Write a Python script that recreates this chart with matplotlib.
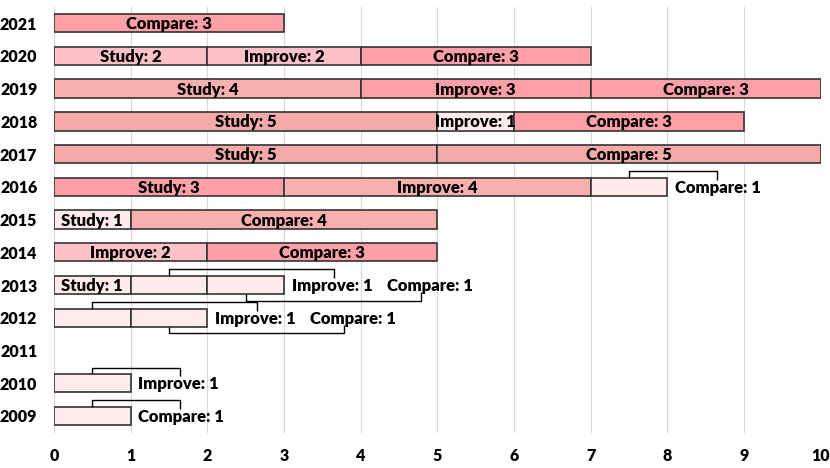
import matplotlib.pyplot as plt
import numpy as np

years = ['2009', '2010', '2011', '2012', '2013', '2014', '2015',
         '2016', '2017', '2018', '2019', '2020', '2021']
study = [0, 0, 0, 0, 1, 0, 1, 3, 5, 5, 4, 2, 0]
improve = [0, 1, 0, 1, 1, 2, 0, 4, 0, 1, 3, 2, 0]
compare = [1, 0, 0, 1, 1, 3, 4, 1, 5, 3, 3, 3, 3]

series = [('Study', study), ('Improve', improve), ('Compare', compare)]

# colour by value, like the heat shading in the original
shade = {1: '#FFEBEB', 2: '#FFC1C8', 3: '#FFA0A8', 4: '#F8B0AE', 5: '#F5AAAA'}

plt.rcParams['font.family'] = ['Lato', 'DejaVu Sans']
W = 'heavy'

fig = plt.figure(figsize=(8.3, 4.68), dpi=100)
ax = fig.add_axes([0.065, 0.0748, 0.924, 0.910])

y = np.arange(len(years))
h = 0.56
left = np.zeros(len(years))
fs = 12
tfs = 11.5

# 1-wide segments whose label is drawn inside anyway
inside_ok = {(4, 'Study'), (6, 'Study'), (9, 'Improve')}

outside = {}  # row -> list of (segment centre, label)
for name, vals in series:
    vals = np.array(vals, dtype=float)
    for i, v in enumerate(vals):
        if v <= 0:
            continue
        ax.barh(y[i], v, left=left[i], height=h, color=shade[int(v)],
                edgecolor='#333333', linewidth=1.2, zorder=3)
        label = f'{name}: {int(v)}'
        cx = left[i] + v / 2
        if v == 1 and (i, name) not in inside_ok:
            outside.setdefault(i, []).append((cx, label))
        else:
            ax.text(cx, y[i] - 0.03, label, ha='center', va='center', fontsize=fs,
                    fontweight=W, zorder=5)
    left = left + vals

# labels that do not fit, placed to the right with leader lines
for i, items in outside.items():
    end = left[i]
    for k, (cx, label) in enumerate(items):
        tx = end + 0.1 + k * 1.24
        ax.text(tx, y[i] - 0.03, label, ha='left', va='center', fontsize=fs,
                fontweight=W, zorder=5)
        if k == 0:
            mid = tx + 0.55
            yb = y[i] + h / 2
            yt = yb + 0.2
            ax.plot([cx, cx, mid, mid], [yb, yt, yt, yb - 0.06], color='black',
                    lw=1, zorder=4, solid_capstyle='butt')
        else:
            mid = tx + 0.44
            yb = y[i] - h / 2
            yt = yb - 0.2
            ax.plot([cx, cx, mid, mid], [yb, yt, yt, yb + 0.06], color='black',
                    lw=1, zorder=4, solid_capstyle='butt')

ax.set_xlim(0, 10)
ax.set_ylim(-0.52, 12.49)
ax.set_xticks(range(11))
ax.set_yticks(y)
ax.set_yticklabels(years)
ax.tick_params(axis='both', length=0, labelsize=tfs)
ax.tick_params(axis='x', pad=11)
ax.tick_params(axis='y', pad=12)
for lab in ax.get_xticklabels() + ax.get_yticklabels():
    lab.set_fontweight(W)
ax.grid(axis='x', color='#D9D9D9', lw=0.8, zorder=0)
for s in ax.spines.values():
    s.set_visible(False)

plt.savefig('out.png', dpi=100)
